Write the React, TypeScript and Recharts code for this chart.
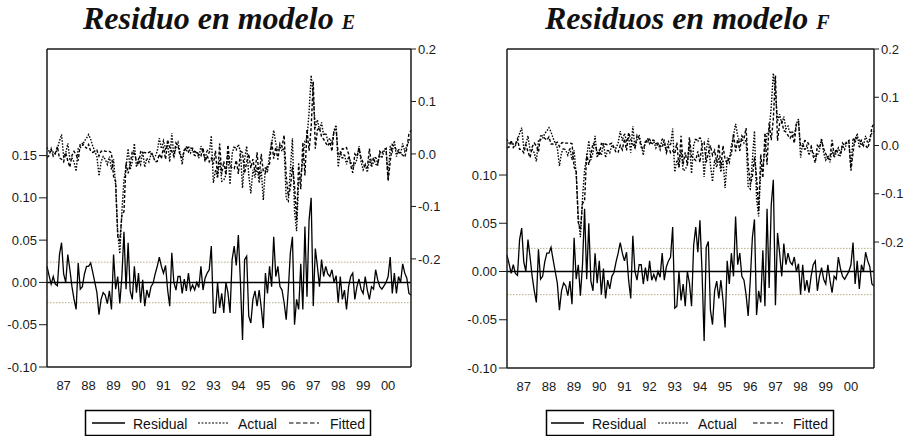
import React from 'react';
import { LineChart, Line, XAxis, YAxis, ReferenceLine } from 'recharts';

// Monthly sample 1986:05 - 2000:12
const startYear = 1986;
const startMonth = 5;
const yearLabels = ['87', '88', '89', '90', '91', '92', '93', '94', '95', '96', '97', '98', '99', '00'];
const leftTicksE = [-0.1, -0.05, 0, 0.05, 0.1, 0.15];
const leftTicksF = [-0.1, -0.05, 0, 0.05, 0.1];
const rightTicks = [-0.2, -0.1, 0, 0.1, 0.2];
const bandValue = 0.024;

// Actual (same dependent variable in both models), right axis
const actual = [
  0.012, 0.005, 0.008, 0.003, 0.000, 0.010, 0.025, 0.037,
  -0.005, 0.002, 0.020, -0.010, -0.008, -0.015, -0.033, 0.010, 0.012, 0.015, 0.025, 0.030,
  0.037, 0.028, 0.015, 0.005, -0.005, -0.042, -0.015, -0.005, -0.010, -0.020, -0.005, -0.030,
  -0.010, -0.060, -0.150, -0.190, -0.110, -0.050, -0.025, 0.010, -0.030, -0.015, 0.020, -0.025,
  -0.010, -0.020, 0.005, -0.025, -0.008, -0.015, 0.000, -0.005, -0.005, 0.005, 0.030, 0.010,
  0.025, 0.010, 0.018, -0.015, 0.040, -0.005, 0.012, 0.022, 0.003, -0.020, 0.010, 0.005,
  0.015, 0.002, 0.008, -0.005, 0.005, -0.008, 0.015, 0.003, -0.010, 0.008, 0.000, 0.035,
  -0.055, -0.030, -0.045, -0.010, -0.052, -0.050, -0.040, 0.005, -0.058, 0.000, 0.015, 0.008,
  0.018, 0.005, -0.065, -0.010, 0.015, -0.040, -0.075, -0.030, -0.045, -0.025, -0.055, -0.030,
  -0.088, -0.025, -0.035, 0.000, 0.020, 0.045, 0.020, 0.008, 0.015, 0.005, 0.012, -0.085,
  -0.090, -0.030, 0.030, -0.110, -0.147, -0.050, -0.045, -0.010, 0.025, 0.030, 0.080, 0.150,
  0.110, 0.050, 0.065, 0.045, 0.060, 0.035, 0.040, 0.025, 0.030, 0.020, 0.045, 0.055,
  -0.025, 0.005, -0.010, 0.000, -0.020, -0.005, -0.015, -0.025, -0.020, -0.010, 0.015, -0.015,
  -0.030, -0.020, -0.035, -0.010, -0.025, -0.015, -0.005, -0.018, 0.000, -0.008, 0.005, 0.010,
  -0.045, 0.015, 0.005, 0.025, -0.005, 0.010, 0.000, 0.020, 0.005, 0.015, 0.025, 0.030,
];

// Model E
const residualE = [
  0.019, 0.008, -0.002, 0.007, -0.002, -0.004, 0.033, 0.047,
  0.010, 0.000, 0.033, 0.015, -0.005, -0.020, -0.032, 0.023, -0.008, -0.005, 0.010, 0.019,
  0.019, 0.023, 0.012, 0.000, -0.012, -0.038, -0.020, -0.012, -0.015, -0.025, -0.010, -0.032,
  0.033, -0.008, 0.007, -0.025, 0.007, 0.060, -0.008, 0.047, -0.010, -0.020, 0.019, -0.012,
  0.011, -0.024, 0.003, -0.028, -0.009, -0.018, -0.005, -0.001, 0.010, 0.019, 0.030, 0.019,
  0.011, 0.020, -0.009, -0.028, 0.035, 0.000, -0.009, 0.007, 0.007, -0.013, 0.004, -0.010,
  0.011, -0.009, -0.003, -0.009, 0.000, -0.006, 0.019, -0.009, 0.005, 0.011, 0.015, 0.043,
  -0.036, -0.036, 0.000, -0.030, -0.013, -0.036, 0.000, -0.012, -0.036, 0.027, 0.043, 0.020,
  0.056, 0.000, -0.068, 0.027, 0.031, -0.040, -0.048, -0.020, -0.010, -0.028, -0.009, -0.030,
  -0.054, 0.011, -0.013, 0.019, -0.005, 0.054, 0.007, 0.019, -0.005, -0.009, -0.024, -0.044,
  -0.009, 0.035, 0.054, -0.050, -0.020, -0.032, 0.022, -0.032, 0.066, -0.017, 0.074, 0.100,
  -0.028, 0.040, 0.019, -0.005, 0.027, 0.007, 0.019, 0.010, 0.007, 0.015, 0.000, 0.008,
  -0.024, 0.007, -0.020, -0.009, -0.032, -0.005, 0.007, 0.011, -0.020, -0.005, 0.004, -0.008,
  -0.013, 0.007, -0.009, -0.020, -0.005, -0.008, 0.015, 0.003, -0.005, -0.008, -0.004, 0.000,
  0.007, 0.030, -0.013, 0.011, -0.013, 0.007, 0.000, 0.022, 0.011, 0.005, -0.013, -0.015,
];
const fittedE = [
  -0.007, -0.003, 0.010, -0.004, 0.002, 0.014, -0.008, -0.010,
  -0.015, 0.002, -0.013, -0.025, -0.003, 0.005, -0.001, -0.013, 0.020, 0.020, 0.015, 0.011,
  0.018, 0.005, 0.003, 0.005, 0.007, -0.004, 0.005, 0.007, 0.005, 0.005, 0.005, 0.002,
  -0.043, -0.052, -0.157, -0.165, -0.117, -0.110, -0.017, -0.037, -0.020, 0.005, 0.001, -0.013,
  -0.021, 0.004, 0.002, 0.003, 0.001, 0.003, 0.005, -0.004, -0.015, -0.014, 0.000, -0.009,
  0.014, -0.010, 0.027, 0.013, 0.005, -0.005, 0.021, 0.015, -0.004, -0.007, 0.006, 0.015,
  0.004, 0.011, 0.011, 0.004, 0.005, -0.002, -0.004, 0.012, -0.015, -0.003, -0.015, -0.008,
  -0.019, 0.006, -0.045, 0.020, -0.039, -0.014, -0.040, 0.017, -0.022, -0.027, -0.028, -0.012,
  -0.038, 0.005, 0.003, -0.037, -0.016, 0.000, -0.027, -0.010, -0.035, 0.003, -0.046, 0.000,
  -0.034, -0.036, -0.022, -0.019, 0.025, -0.009, 0.013, -0.011, 0.020, 0.014, 0.036, -0.041,
  -0.081, -0.065, -0.024, -0.060, -0.127, -0.018, -0.067, 0.022, -0.041, 0.047, 0.006, 0.050,
  0.138, 0.010, 0.046, 0.050, 0.033, 0.028, 0.021, 0.015, 0.023, 0.005, 0.045, 0.047,
  -0.001, -0.002, 0.010, 0.009, 0.012, 0.000, -0.022, -0.036, 0.000, -0.005, 0.011, -0.007,
  -0.017, -0.027, -0.026, 0.010, -0.020, -0.007, -0.020, -0.021, 0.005, 0.000, 0.009, 0.010,
  -0.052, -0.015, 0.018, 0.014, 0.008, 0.003, 0.000, -0.002, -0.006, 0.010, 0.038, 0.045,
];

// Model F
const residualF = [
  0.017, 0.008, -0.002, 0.007, -0.002, -0.004, 0.033, 0.045,
  0.010, 0.000, 0.033, 0.015, -0.005, -0.020, -0.032, 0.023, -0.008, -0.005, 0.010, 0.019,
  0.019, 0.025, 0.012, 0.000, -0.012, -0.040, -0.020, -0.012, -0.015, -0.025, -0.010, -0.034,
  0.035, -0.008, 0.007, -0.025, 0.007, 0.065, -0.008, 0.050, -0.010, -0.020, 0.019, -0.012,
  0.011, -0.024, 0.003, -0.028, -0.009, -0.018, -0.005, -0.001, 0.010, 0.019, 0.030, 0.019,
  0.011, 0.020, -0.009, -0.028, 0.037, 0.000, -0.009, 0.007, 0.007, -0.013, 0.004, -0.010,
  0.011, -0.009, -0.003, -0.009, 0.000, -0.006, 0.019, -0.009, 0.005, 0.011, 0.015, 0.046,
  -0.038, -0.036, 0.000, -0.030, -0.013, -0.036, 0.000, -0.012, -0.036, 0.027, 0.046, 0.020,
  0.053, 0.000, -0.072, 0.025, 0.031, -0.040, -0.055, -0.020, -0.010, -0.028, -0.009, -0.030,
  -0.058, 0.011, -0.013, 0.019, -0.005, 0.057, 0.007, 0.019, -0.005, -0.009, -0.024, -0.046,
  -0.009, 0.035, 0.054, -0.045, -0.020, -0.032, 0.022, -0.036, 0.065, -0.017, 0.069, 0.095,
  -0.035, 0.040, 0.019, -0.005, 0.029, 0.007, 0.019, 0.010, 0.007, 0.015, 0.000, 0.008,
  -0.024, 0.007, -0.020, -0.009, -0.022, -0.005, 0.007, 0.011, -0.020, -0.005, 0.004, -0.008,
  -0.013, 0.007, -0.009, -0.022, -0.005, -0.008, 0.015, 0.003, -0.005, -0.008, -0.004, 0.000,
  0.007, 0.030, -0.013, 0.011, -0.018, 0.007, 0.000, 0.020, 0.011, 0.005, -0.013, -0.015,
];
const fittedF = [
  -0.005, -0.003, 0.010, -0.004, 0.002, 0.014, -0.008, -0.008,
  -0.015, 0.002, -0.013, -0.025, -0.003, 0.005, -0.001, -0.013, 0.020, 0.020, 0.015, 0.011,
  0.018, 0.003, 0.003, 0.005, 0.007, -0.002, 0.005, 0.007, 0.005, 0.005, 0.005, 0.004,
  -0.045, -0.052, -0.160, -0.175, -0.120, -0.115, -0.017, -0.040, -0.020, 0.005, 0.001, -0.013,
  -0.021, 0.004, 0.002, 0.003, 0.001, 0.003, 0.005, -0.004, -0.015, -0.014, 0.000, -0.009,
  0.014, -0.010, 0.027, 0.013, 0.003, -0.005, 0.021, 0.015, -0.004, -0.007, 0.006, 0.015,
  0.004, 0.011, 0.011, 0.004, 0.005, -0.002, -0.004, 0.012, -0.015, -0.003, -0.015, -0.011,
  -0.017, 0.006, -0.045, 0.020, -0.039, -0.014, -0.040, 0.017, -0.022, -0.027, -0.031, -0.012,
  -0.035, 0.005, 0.007, -0.035, -0.016, 0.000, -0.020, -0.010, -0.035, 0.003, -0.046, 0.000,
  -0.030, -0.036, -0.022, -0.019, 0.025, -0.012, 0.013, -0.011, 0.020, 0.014, 0.036, -0.039,
  -0.081, -0.065, -0.024, -0.065, -0.135, -0.018, -0.067, 0.026, -0.040, 0.047, 0.011, 0.055,
  0.145, 0.010, 0.046, 0.050, 0.031, 0.028, 0.021, 0.015, 0.023, 0.005, 0.045, 0.047,
  -0.001, -0.002, 0.010, 0.009, 0.002, 0.000, -0.022, -0.036, 0.000, -0.005, 0.011, -0.007,
  -0.017, -0.027, -0.026, 0.012, -0.020, -0.007, -0.020, -0.021, 0.005, 0.000, 0.009, 0.010,
  -0.052, -0.015, 0.018, 0.014, 0.013, 0.003, 0.000, 0.000, -0.006, 0.010, 0.038, 0.045,
];

type Row = { i: number; year: number; month: number; actual: number; fitted: number; residual: number };

function buildRows(residual: number[], fitted: number[]): Row[] {
  return actual.map((a, i) => {
    const abs = startMonth - 1 + i;
    return {
      i,
      year: startYear + Math.floor(abs / 12),
      month: (abs % 12) + 1,
      actual: a,
      fitted: fitted[i],
      residual: residual[i],
    };
  });
}

const FONT = '"Liberation Sans", Arial, sans-serif';
const AX = '#1a1a1a';

type PanelProps = {
  left: number;
  rows: Row[];
  leftDomain: [number, number];
  rightDomain: [number, number];
  leftTicks: number[];
  leftWidth: number;
  marginRight: number;
  marginBottom: number;
};

function Panel(p: PanelProps) {
  const janIdx = p.rows.filter((r) => r.month === 1).map((r) => r.i);
  const fmtYear = (v: number) => {
    const k = janIdx.indexOf(v);
    return k >= 0 ? yearLabels[k] : '';
  };
  return (
    <div style={{ position: 'absolute', left: p.left, top: 0 }}>
      <LineChart
        width={455}
        height={436}
        data={p.rows}
        margin={{ top: 49, right: p.marginRight, bottom: p.marginBottom, left: 0 }}
      >
        <XAxis
          dataKey="i"
          type="number"
          domain={[0, p.rows.length - 1]}
          ticks={janIdx}
          tickFormatter={fmtYear}
          interval={0}
          tickLine={false}
          tickSize={0}
          tickMargin={14}
          height={30}
          axisLine={{ stroke: AX, strokeWidth: 1.5 }}
          tick={{ fontSize: 13, fontFamily: FONT, fill: '#1a1a1a' }}
        />
        <YAxis
          yAxisId="left"
          orientation="left"
          type="number"
          domain={p.leftDomain}
          ticks={p.leftTicks}
          allowDataOverflow
          interval={0}
          width={p.leftWidth}
          tickSize={8}
          tickMargin={2}
          tickFormatter={(v: number) => v.toFixed(2)}
          axisLine={{ stroke: AX, strokeWidth: 1.5 }}
          tickLine={{ stroke: AX }}
          tick={{ fontSize: 13, fontFamily: FONT, fill: '#1a1a1a' }}
        />
        <YAxis
          yAxisId="right"
          orientation="right"
          type="number"
          domain={p.rightDomain}
          ticks={rightTicks}
          allowDataOverflow
          interval={0}
          width={36}
          tickSize={5}
          tickMargin={2}
          tickFormatter={(v: number) => v.toFixed(1)}
          axisLine={{ stroke: AX, strokeWidth: 1.5 }}
          tickLine={{ stroke: AX }}
          tick={{ fontSize: 13, fontFamily: FONT, fill: '#1a1a1a' }}
        />
        <ReferenceLine yAxisId="right" y={p.rightDomain[1]} stroke={AX} strokeWidth={1.5} />
        <ReferenceLine yAxisId="left" y={bandValue} stroke="#b8ad84" strokeDasharray="1.5 1.5" />
        <ReferenceLine yAxisId="left" y={-bandValue} stroke="#b8ad84" strokeDasharray="1.5 1.5" />
        <ReferenceLine yAxisId="left" y={0} stroke="#000" strokeWidth={1.5} />
        <Line
          yAxisId="right"
          dataKey="actual"
          type="linear"
          stroke="#000"
          strokeWidth={1.4}
          strokeDasharray="1.5 1.5"
          dot={false}
          isAnimationActive={false}
        />
        <Line
          yAxisId="right"
          dataKey="fitted"
          type="linear"
          stroke="#000"
          strokeWidth={1.4}
          strokeDasharray="3 2"
          dot={false}
          isAnimationActive={false}
        />
        <Line
          yAxisId="left"
          dataKey="residual"
          type="linear"
          stroke="#000"
          strokeWidth={1.3}
          dot={false}
          isAnimationActive={false}
        />
      </LineChart>
    </div>
  );
}

function LegendBox({ x, w, items }: { x: number; w: number; items: number[] }) {
  // items: [solidStart, residualText, dottedStart, actualText, dashedStart, fittedText]
  const y = 423;
  return (
    <g>
      <rect x={x} y={410.5} width={w} height={25} fill="#fff" stroke="#000" strokeWidth={1.5} />
      <line x1={items[0]} x2={items[0] + 33} y1={y} y2={y} stroke="#000" strokeWidth={1.3} />
      <text x={items[1]} y={428.5} fontSize={14} fontFamily={FONT} fill="#111">Residual</text>
      <line x1={items[2]} x2={items[2] + 30} y1={y} y2={y} stroke="#000" strokeWidth={1.2} strokeDasharray="2 1.5" />
      <text x={items[3]} y={428.5} fontSize={14} fontFamily={FONT} fill="#111">Actual</text>
      <line x1={items[4]} x2={items[4] + 30} y1={y} y2={y} stroke="#000" strokeWidth={1.2} strokeDasharray="4.5 2.5" />
      <text x={items[5]} y={428.5} fontSize={14} fontFamily={FONT} fill="#111">Fitted</text>
    </g>
  );
}

export default function App() {
  const rowsE = buildRows(residualE, fittedE);
  const rowsF = buildRows(residualF, fittedF);
  const titleStyle = {
    fontFamily: '"Liberation Serif", "Times New Roman", serif',
    fontWeight: 'bold' as const,
    fontStyle: 'italic' as const,
    fontSize: 32,
    fill: '#111',
  };
  return (
    <div style={{ position: 'absolute', left: 0, top: 0, width: 910, height: 436, background: '#fff', overflow: 'hidden' }}>
      <Panel
        left={0}
        rows={rowsE}
        leftDomain={[-0.1, 0.276]}
        rightDomain={[-0.406, 0.2]}
        leftTicks={leftTicksE}
        leftWidth={47}
        marginRight={8}
        marginBottom={39}
      />
      <Panel
        left={455}
        rows={rowsF}
        leftDomain={[-0.1, 0.2306]}
        rightDomain={[-0.461, 0.2]}
        leftTicks={leftTicksF}
        leftWidth={52}
        marginRight={0}
        marginBottom={38}
      />
      <svg width={910} height={436} style={{ position: 'absolute', left: 0, top: 0, pointerEvents: 'none' }}>
        <text x={83} y={29} style={titleStyle}>
          Residuo en modelo <tspan style={{ fontSize: 20 }}>E</tspan>
        </text>
        <text x={545} y={29} style={titleStyle}>
          Residuos en modelo <tspan style={{ fontSize: 20 }}>F</tspan>
        </text>
        <LegendBox x={85.5} w={285} items={[92, 133, 198, 238, 289, 330]} />
        <LegendBox x={546.5} w={287} items={[551, 592, 658, 698, 753, 793]} />
      </svg>
    </div>
  );
}
